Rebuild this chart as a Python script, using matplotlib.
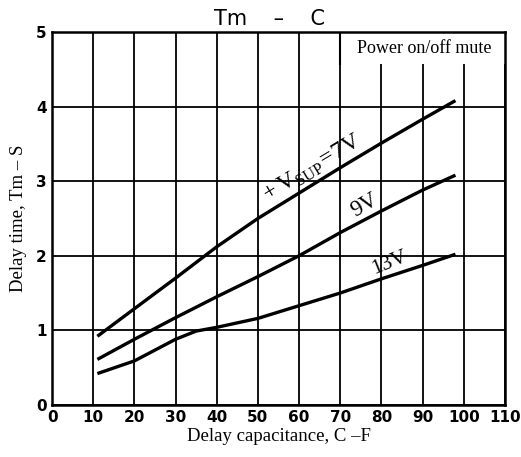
import matplotlib.pyplot as plt
from matplotlib.patches import Rectangle

plt.rcParams['mathtext.fontset'] = 'custom'
plt.rcParams['mathtext.rm'] = 'Liberation Serif'

# delay capacitance (x) and delay time (y)
cap_7v = [11, 20, 30, 40, 50, 60, 70, 80, 90, 98]
tm_7v = [0.92, 1.29, 1.70, 2.12, 2.50, 2.84, 3.18, 3.51, 3.83, 4.08]
cap_9v = [11, 20, 30, 40, 50, 60, 70, 80, 90, 98]
tm_9v = [0.61, 0.88, 1.17, 1.45, 1.72, 2.00, 2.31, 2.60, 2.88, 3.08]
cap_13v = [11, 20, 30, 35, 40, 50, 60, 70, 80, 90, 98]
tm_13v = [0.42, 0.59, 0.88, 0.99, 1.04, 1.16, 1.33, 1.50, 1.69, 1.87, 2.02]

x_ticks = list(range(0, 111, 10))
y_ticks = [0, 1, 2, 3, 4, 5]

serif = 'Liberation Serif'

fig = plt.figure(figsize=(5.21, 4.57), dpi=100)
ax = fig.add_axes([0.1, 0.114, 0.869, 0.816])

for c, t in [(cap_7v, tm_7v), (cap_9v, tm_9v), (cap_13v, tm_13v)]:
    ax.plot(c, t, color='black', lw=2.4, solid_capstyle='butt', zorder=3)

ax.set_xlim(0, 110)
ax.set_ylim(0, 5)
ax.set_xticks(x_ticks)
ax.set_yticks(y_ticks)
ax.set_xticklabels([str(v) for v in x_ticks], fontweight='bold', fontsize=11)
ax.set_yticklabels([str(v) for v in y_ticks], fontweight='bold', fontsize=11)
ax.tick_params(length=0, pad=4)
ax.grid(True, color='black', lw=1.3)
for s in ax.spines.values():
    s.set_linewidth(1.8)

# "Power on/off mute" box in the upper right corner
ax.add_patch(Rectangle((70, 4.57), 40, 0.43, facecolor='white', edgecolor='none', zorder=2))
ax.plot([70, 70], [4.57, 5], color='black', lw=1.5, zorder=2)
ax.text(90.3, 4.78, 'Power on/off mute', family=serif, fontsize=13, ha='center', va='center', zorder=4)

# curve labels
ax.text(63.3, 3.17, r'$+\,\mathrm{V}_{\mathrm{SUP}}\!=\!7\mathrm{V}$', fontsize=17, rotation=31,
        ha='center', va='center', rotation_mode='anchor', zorder=4)
ax.text(76, 2.68, '9V', family=serif, fontsize=16.5, rotation=30, ha='center', va='center',
        rotation_mode='anchor', zorder=4)
ax.text(82, 1.9, '13V', family=serif, fontsize=15.5, rotation=22, ha='center', va='center',
        rotation_mode='anchor', zorder=4)

ax.set_title('Tm    –    C', fontsize=15, pad=5, x=0.48)
ax.set_xlabel('Delay capacitance, C –F', family=serif, fontsize=13.5, labelpad=2)
ax.set_ylabel('Delay time, Tm – S', family=serif, fontsize=13.5, labelpad=6)

plt.savefig('out.png', dpi=100)
